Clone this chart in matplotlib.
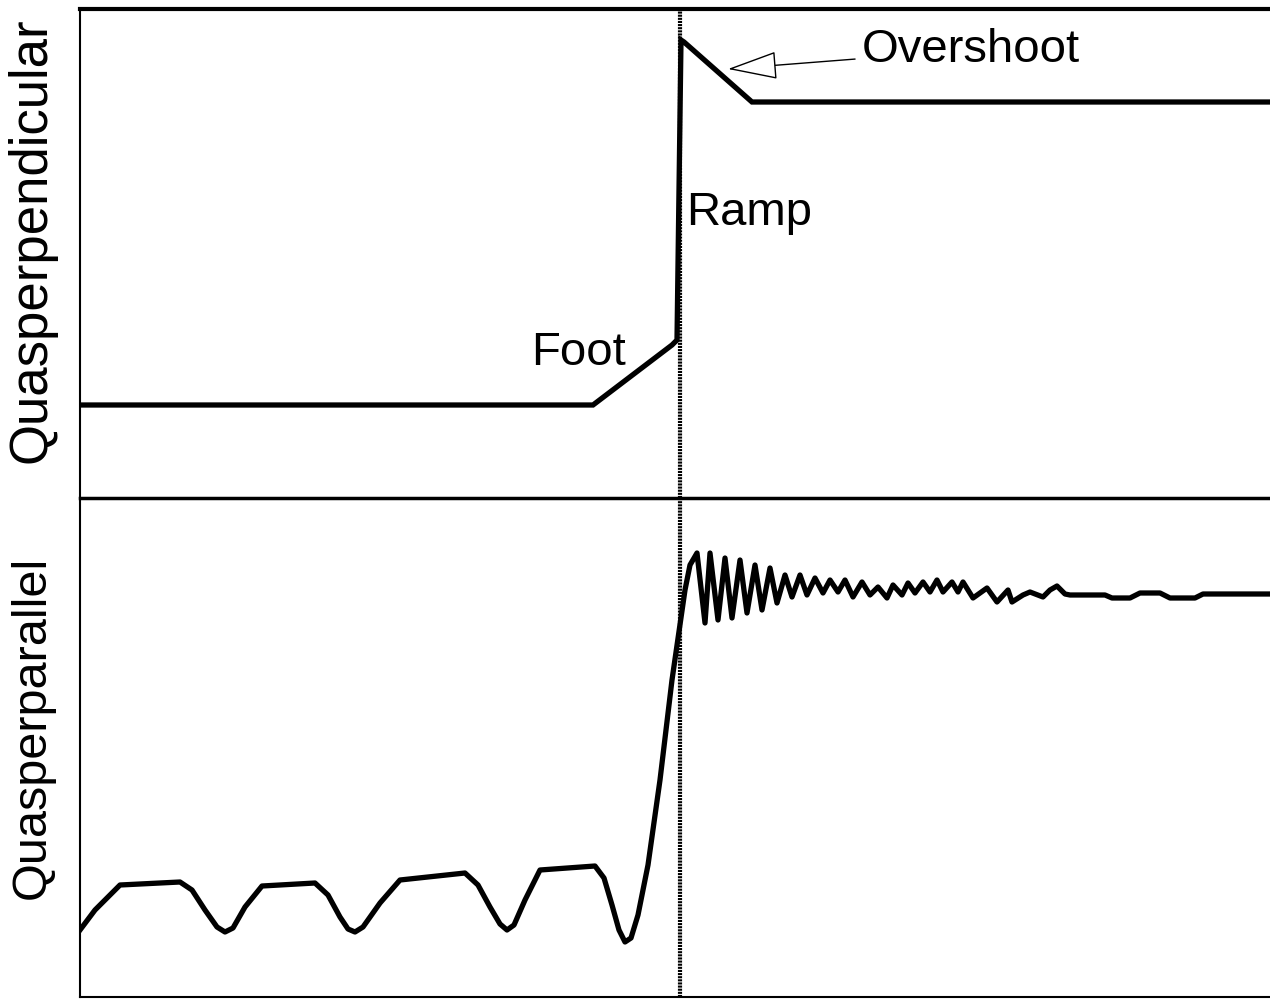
import matplotlib
matplotlib.use('Agg')
import matplotlib.pyplot as plt

plt.rcParams['font.family'] = ['Liberation Sans', 'DejaVu Sans']

# positions (x along the shock normal, y in panel units, top of panel = small y)
shock_x = 680

perp_x = [80, 593, 672, 677, 681, 684, 752, 1280]
perp_y = [405, 405, 345, 340, 40, 42, 102, 102]

par_x = [80, 95, 120, 180, 192, 205, 217, 225, 233, 245, 262, 315, 328, 340, 348, 355, 363,
         380, 400, 465, 478, 490, 500, 507, 514, 525, 540, 595, 604, 612, 619, 625, 631,
         638, 648, 660, 672, 685, 690,
         697, 705, 710, 718, 725, 732, 740, 747, 755, 762, 770, 777, 785, 792, 800, 807, 815,
         823, 830, 838, 845, 853, 862, 870, 878, 887, 893, 902, 908, 915, 923, 930, 937, 943,
         952, 958, 963, 973, 987, 997, 1008, 1012, 1023, 1030, 1043, 1050, 1057, 1065, 1070,
         1105, 1112, 1130, 1140, 1160, 1170, 1195, 1203, 1280]
par_y = [930, 910, 885, 882, 890, 910, 927, 932, 928, 907, 886, 883, 895, 917, 929, 932, 927,
         903, 880, 873, 885, 907, 924, 930, 925, 900, 870, 866, 878, 905, 930, 942, 938,
         915, 865, 780, 680, 590, 565,
         553, 623, 553, 620, 558, 618, 560, 613, 565, 610, 568, 603, 575, 597, 575, 595, 578,
         593, 580, 592, 580, 597, 582, 595, 587, 598, 585, 595, 583, 593, 582, 592, 580, 592,
         582, 592, 582, 598, 588, 602, 590, 602, 595, 592, 597, 590, 586, 594, 595,
         595, 598, 598, 593, 593, 598, 598, 594, 594]

W, H = 1270, 999
fig = plt.figure(figsize=(W / 100, H / 100), dpi=100)

ax2 = fig.add_axes([80 / W, (H - 997) / H, 1200 / W, 499 / H])
ax1 = fig.add_axes([80 / W, (H - 498) / H, 1200 / W, 489 / H])
ax1.patch.set_alpha(0)
ax2.patch.set_alpha(0)

ax1.set_xlim(80, 1280)
ax1.set_ylim(498, 9)
ax2.set_xlim(80, 1280)
ax2.set_ylim(997, 498)

dots = (0, (0.5, 0.25))
for ax in (ax1, ax2):
    ax.set_xticks([])
    ax.set_yticks([])
    ax.spines['right'].set_visible(False)
    ax.spines['left'].set_linewidth(1.5)
    ax.axvline(shock_x, color='black', lw=3, linestyle=dots, zorder=1)

ax1.spines['top'].set_linewidth(3)
ax1.spines['bottom'].set_linewidth(2.5)
ax2.spines['top'].set_visible(False)
ax2.spines['bottom'].set_linewidth(1.5)

ax1.plot(perp_x, perp_y, color='black', lw=3.8, solid_joinstyle='miter', zorder=3)
ax2.plot(par_x, par_y, color='black', lw=3.8, solid_joinstyle='round', zorder=3)

ax1.text(531, 365, 'Foot', fontsize=34, ha='left', va='baseline')
ax1.text(686, 225, 'Ramp', fontsize=34, ha='left', va='baseline')
ax1.annotate('Overshoot', xy=(728, 69), xytext=(862, 62), fontsize=34,
             ha='left', va='baseline',
             arrowprops=dict(arrowstyle='-|>,head_length=32,head_width=9',
                             mutation_scale=1, fc='white', ec='black', lw=1,
                             shrinkA=3, shrinkB=0))

fig.text(32 / W, 1 - 240 / H, 'Quasperpendicular', fontsize=38, rotation=90,
         ha='center', va='center')
fig.text(32 / W, 1 - 727 / H, 'Quasperparallel', fontsize=35, rotation=90,
         ha='center', va='center')

fig.savefig('out.png', dpi=100)
